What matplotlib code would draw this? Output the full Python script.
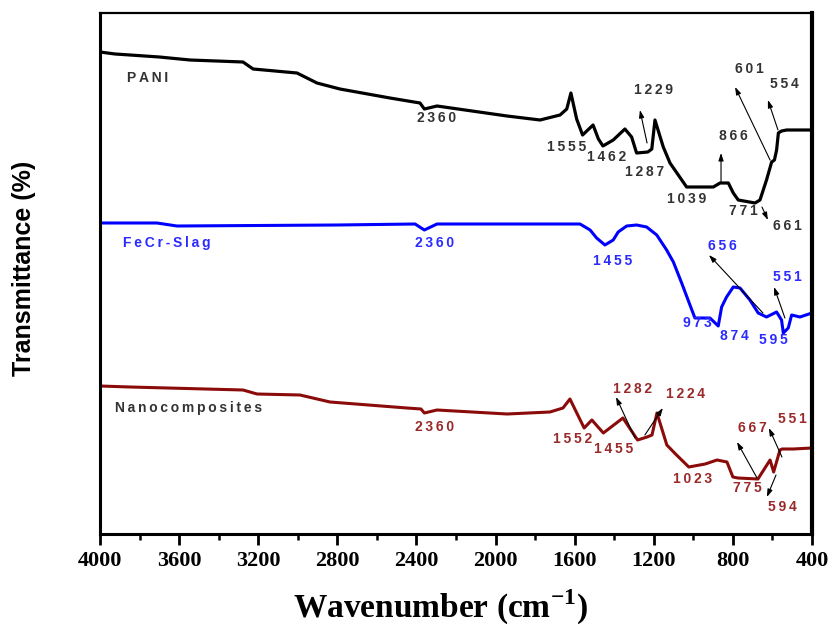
import matplotlib
matplotlib.use("Agg")
import matplotlib.pyplot as plt
from matplotlib.ticker import MultipleLocator

# ---------------- data (wavenumber, relative transmittance) ----------------
pani_w = [4000, 3924, 3848, 3700, 3545, 3277, 3226, 3004, 2903, 2787, 2534, 2382,
          2360, 2296, 1942, 1775, 1674, 1640, 1619, 1590, 1560, 1507, 1480, 1457,
          1405, 1346, 1312, 1287, 1230, 1210, 1194, 1152, 1118, 1034, 899, 865,
          823, 798, 773, 688, 663, 630, 604, 590, 579, 570, 554, 528, 461, 400]
pani_t = [482, 480, 479, 477, 474, 472, 465, 461, 451, 445, 436, 431,
          425, 428, 418, 414, 419, 425, 441, 415, 399, 409, 395, 388,
          394, 405, 397, 381, 382, 385, 414, 387, 371, 347, 347, 351,
          351, 341, 334, 331, 334, 354, 372, 374, 384, 401, 403, 404, 404, 404]

slag_w = [4000, 3712, 3611, 2802, 2407, 2360, 2296, 1573, 1522, 1489, 1447, 1405,
          1380, 1337, 1287, 1236, 1185, 1135, 1101, 1059, 1017, 992, 967, 916,
          874, 857, 832, 798, 764, 714, 672, 630, 579, 554, 545, 520, 503, 461, 400]
slag_t = [311, 311, 308, 309, 310, 304, 310, 310, 304, 296, 289, 294,
          302, 308, 309, 307, 299, 284, 272, 251, 229, 216, 216, 216,
          208, 227, 237, 247, 246, 234, 221, 217, 222, 214, 201, 206, 219, 217, 221]

nano_w = [4000, 3848, 3277, 3206, 2989, 2837, 2448, 2377, 2360, 2296, 1942, 1725,
          1659, 1624, 1552, 1513, 1455, 1356, 1282, 1234, 1209, 1184, 1134, 1090,
          1023, 940, 880, 830, 800, 775, 673, 667, 612, 594, 562, 551, 496, 400]
nano_t = [148, 147, 144, 140, 139, 132, 126, 125, 121, 124, 120, 122,
          126, 135, 106, 114, 101, 116, 94, 97, 99, 121, 89, 80,
          67, 70, 74, 72, 57, 56, 55, 57, 74, 62, 84, 85, 85, 86]

series_names = ["PANI", "FeCr-Slag", "Nanocomposites"]
series_colors = ["#000000", "#0000ff", "#8b0a0a"]
label_colors = ["#333333", "#2b2bff", "#9a2a2a"]
name_colors = ["#333333", "#2b2bff", "#333333"]

x_ticks = [4000, 3600, 3200, 2800, 2400, 2000, 1600, 1200, 800, 400]

# peak labels: (text, text_w, text_t, arrow_from, arrow_to)
pani_peaks = [
    ("2360", 2296, 416, None, None),
    ("1555", 1639, 387, None, None),
    ("1462", 1437, 377, None, None),
    ("1229", 1199, 444, (1234, 391), (1270, 424)),
    ("1287", 1245, 362, None, None),
    ("866", 800, 398, (860, 352), (860, 381)),
    ("601", 719, 465, (612, 374), (789, 447)),
    ("554", 542, 450, (572, 404), (623, 434)),
    ("1039", 1032, 335, None, None),
    ("771", 749, 323, None, None),
    ("661", 522, 308, (653, 327), (623, 314)),
]
slag_peaks = [
    ("2360", 2306, 291, None, None),
    ("1455", 1406, 273, None, None),
    ("656", 855, 288, (648, 221), (921, 279)),
    ("551", 527, 257, (537, 216), (592, 247)),
    ("973", 982, 211, None, None),
    ("874", 790, 198, None, None),
    ("595", 597, 194, None, None),
]
nano_peaks = [
    ("2360", 2306, 107, None, None),
    ("1552", 1609, 95, None, None),
    ("1455", 1401, 85, None, None),
    ("1282", 1310, 145, (1295, 96), (1391, 137)),
    ("1224", 1042, 140, (1245, 99), (1154, 126)),
    ("1023", 1002, 55, None, None),
    ("775", 729, 46, None, None),
    ("667", 703, 106, (678, 56), (779, 92)),
    ("551", 501, 115, (552, 77), (618, 106)),
    ("594", 552, 27, (582, 59), (628, 37)),
]
name_pos = [(3863, 456), (3884, 291), (3924, 126)]

# ---------------- figure ----------------
plt.rcParams['font.family'] = ['Liberation Sans', 'DejaVu Sans']
fig = plt.figure(figsize=(8.36, 6.35), dpi=100)
ax = fig.add_axes([100/836, 101/635, 712/836, 521/635])

for w, t, c, lw in [(pani_w, pani_t, series_colors[0], 2.3),
                    (slag_w, slag_t, series_colors[1], 2.2),
                    (nano_w, nano_t, series_colors[2], 2.2)]:
    ax.plot(w, t, color=c, lw=lw, solid_joinstyle='round')

def spaced(s):
    return "\u2009".join(s)

for name, (pw, pt), col in zip(series_names, name_pos, name_colors):
    ax.text(pw, pt, spaced(name), color=col, fontsize=10, fontweight='bold',
            ha='left', va='center')

for peaks, col in [(pani_peaks, label_colors[0]), (slag_peaks, label_colors[1]),
                   (nano_peaks, label_colors[2])]:
    for txt, tw, tt, a0, a1 in peaks:
        ax.text(tw, tt, spaced(txt), color=col, fontsize=10, fontweight='bold',
                ha='center', va='center')
        if a0 is not None:
            ax.annotate("", xy=a1, xytext=a0,
                        arrowprops=dict(arrowstyle='-|>,head_length=0.45,head_width=0.15',
                                        color='black', lw=0.8, shrinkA=0, shrinkB=0))

ax.set_xlim(4000, 400)
ax.set_ylim(0, 521)
ax.set_xticks(x_ticks)
ax.xaxis.set_minor_locator(MultipleLocator(200))
ax.set_xticklabels([str(v) for v in x_ticks], fontfamily='Liberation Serif',
                   fontweight='bold', fontsize=16)
ax.set_yticks([])
ax.tick_params(axis='x', which='major', direction='out', length=8, width=2, pad=4)
ax.tick_params(axis='x', which='minor', direction='out', length=4, width=1.8)
for s in ax.spines.values():
    s.set_linewidth(2.2)
ax.spines['top'].set_linewidth(1.6)
ax.spines['right'].set_linewidth(3)

ax.set_xlabel("Wavenumber (cm$^{\\mathregular{-1}}$)", fontfamily='Liberation Serif',
              fontweight='bold', fontsize=24, labelpad=12)
ax.xaxis.label.set_x(0.478)
ax.set_ylabel("Transmittance (%)", fontweight='bold', fontsize=18, labelpad=46)
ax.yaxis.label.set_y(0.51)

fig.savefig("out.png", dpi=100)
